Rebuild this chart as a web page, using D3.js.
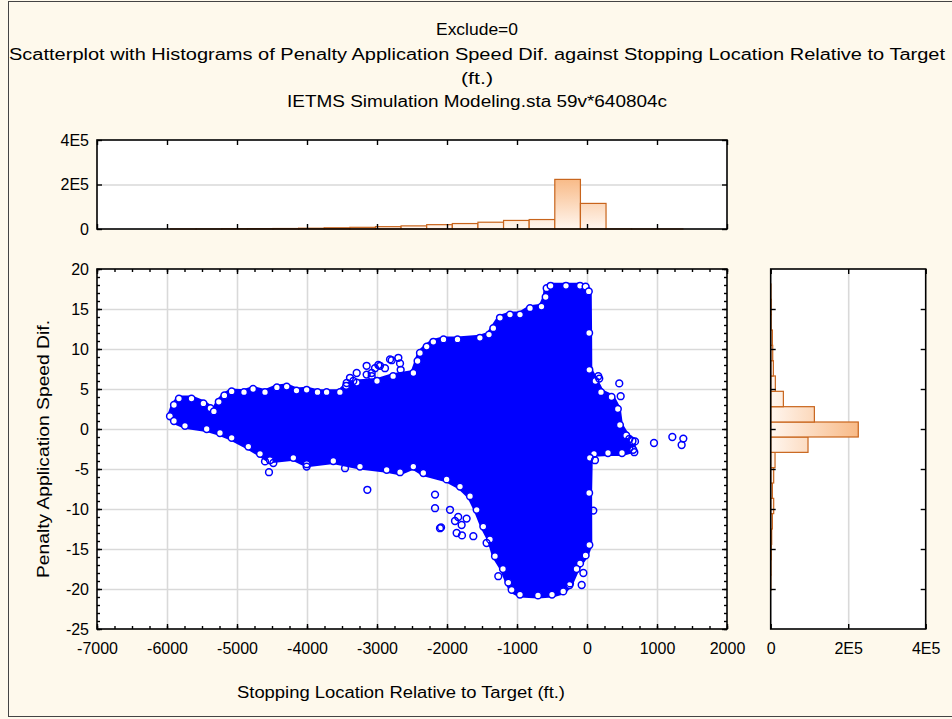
<!DOCTYPE html>
<html>
<head>
<meta charset="utf-8">
<script src="https://cdn.jsdelivr.net/npm/d3@7"></script>
<style>
  body { margin: 0; background: #fef9ec; }
  svg { display: block; font-family: Arial, "Liberation Sans", sans-serif; }
  .tick text { font-size: 16px; fill: #000; }
</style>
</head>
<body>
<svg id="chart" width="952" height="719"></svg>
<script>
// ---- data ----
var titleLines = ["Exclude=0",
    "Scatterplot with Histograms of Penalty Application Speed Dif. against Stopping Location Relative to Target",
    "(ft.)",
    "IETMS Simulation Modeling.sta 59v*640804c"]
var xLabel = "Stopping Location Relative to Target (ft.)"
var yLabel = "Penalty Application Speed Dif."

var xTicks = [-7000, -6000, -5000, -4000, -3000, -2000, -1000, 0, 1000, 2000]
var yTicks = [-25, -20, -15, -10, -5, 0, 5, 10, 15, 20]
var countTicks = [0, 200000, 400000]

// histogram of the x variable (20 bins)
var xBinEdges = [-5950, -5584, -5218, -4852, -4486, -4120, -3754, -3388, -3022, -2656, -2290,
    -1924, -1558, -1192, -826, -460, -94, 272, 638, 1004, 1370]
var xCounts = [300, 500, 1500, 1800, 2200, 3500, 5500, 7500, 10500, 14000,
    19500, 24500, 30500, 38500, 42500, 223000, 115000, 600, 100, 20]

// histogram of the y variable (20 bins, bottom to top)
var yBinEdges = [-20.17, -18.25, -16.33, -14.42, -12.5, -10.58, -8.67, -6.75, -4.83, -2.92, -1.0,
    0.875, 2.79, 4.71, 6.63, 8.54, 10.46, 12.38, 14.29, 16.21, 18.13]
var yCounts = [400, 900, 1700, 2600, 4300, 7700, 4300, 7700, 11200, 96300,
    226000, 112700, 32700, 12000, 6900, 5200, 4300, 1300, 1500, 700]

// outline of the dense point cloud: top edge left->right, then right side
var blobTop = [[-5957, 1.6], [-5900, 3.0], [-5829, 3.8], [-5650, 3.8], [-5480, 3.2], [-5380, 2.6],
    [-5330, 2.2], [-5260, 3.4], [-5180, 4.2], [-5076, 4.7], [-4900, 4.6], [-4770, 5.0], [-4600, 4.6],
    [-4430, 5.2], [-4290, 5.3], [-4150, 4.8], [-4005, 4.9], [-3850, 4.6], [-3720, 4.6], [-3530, 4.6],
    [-3440, 5.4], [-3290, 5.8], [-3000, 6.0], [-2770, 6.6], [-2480, 7.0], [-2420, 8.5], [-2386, 9.5],
    [-2290, 10.3], [-2195, 10.9], [-2050, 11.2], [-1850, 11.2], [-1530, 11.4], [-1400, 11.8],
    [-1338, 12.6], [-1243, 13.9], [-1100, 14.3], [-957, 14.3], [-814, 15.1], [-650, 15.3],
    [-590, 16.5], [-576, 17.6], [-520, 17.9], [-300, 17.9], [-100, 17.9], [-20, 17.8], [25, 17.2],
    [30, 12], [33, 7.4], [120, 6.0], [200, 4.6], [350, 4.0], [440, 2.5], [470, 0.5], [560, -0.8],
    [650, -1.5], [660, -2.6], [500, -3.0], [300, -3.0], [100, -3.1], [40, -3.6], [30, -8],
    [33, -14.5]]
// bottom edge right->left
var blobBottom = [[-20, -15.8], [-100, -16.8], [-150, -17.5], [-250, -19.5], [-340, -20.3],
    [-500, -20.7], [-700, -20.8], [-957, -20.7], [-1076, -20.1], [-1124, -19.2], [-1200, -17.5],
    [-1314, -15.9], [-1386, -13.8], [-1481, -12.2], [-1576, -10.1], [-1671, -8.4], [-1814, -7.2],
    [-2005, -6.3], [-2338, -5.5], [-2481, -4.7], [-2671, -5.4], [-2862, -5.1], [-3243, -4.7],
    [-3624, -4.0], [-4005, -4.4], [-4195, -3.6], [-4529, -3.9], [-4671, -3.1], [-4838, -2.2],
    [-5076, -1.1], [-5243, -0.5], [-5433, 0.0], [-5743, 0.4], [-5900, 1.0]]

// isolated points outside the dense cloud
var outliers = [[-3148, 7.9], [-2981, 8.0], [-2814, 8.7], [-2695, 8.9], [-2671, 8.2], [-3290, 7.0],
    [-3076, 7.0], [-3433, 5.75], [-3338, 6.0], [-2886, 7.6], [-3029, 7.6], [-2957, 7.9], [-2790, 8.6],
    [-2662, 7.4], [-3386, 6.4], [-3148, 6.8], [-3076, 6.6],
    [-4543, -5.4], [-4600, -4.05], [-4481, -4.25], [-4005, -4.7], [-3457, -4.9], [-3138, -7.6],
    [-2171, -8.2], [-2100, -12.4], [-2085, -12.3], [-1862, -13.0], [-1786, -13.3], [-1624, -13.4],
    [-2171, -9.9], [-1957, -10.1], [-1886, -11.5], [-1791, -12.0], [-1434, -14.25], [-1267, -18.4],
    [-1840, -11.0], [-1720, -11.2],
    [161, 6.6], [175, 6.3], [461, 5.7], [481, 4.1], [957, -1.75], [1219, -1.0], [1376, -1.2],
    [1352, -2.0], [604, -1.25], [604, -2.4], [676, -2.9], [686, -1.55], [114, -3.9], [90, -10.2],
    [-76, -19.5], [-243, -19.3], [-52, -18.0]]

// ---- chart ----
var svg = d3.select("#chart")

var main = { left: 97, right: 727, top: 269, bottom: 629 }
var topH = { top: 140, bottom: 229 }
var sideH = { left: 770.7, right: 925.7 }

var x = d3.scaleLinear().domain([-7000, 2000]).range([main.left, main.right])
var y = d3.scaleLinear().domain([-25, 20]).range([main.bottom, main.top])
var hTop = d3.scaleLinear().domain([0, 400000]).range([topH.bottom, topH.top])
var hSide = d3.scaleLinear().domain([0, 400000]).range([sideH.left, sideH.right])

var plain = function(d) { return String(d) }
var countFmt = function(d) { return d === 0 ? "0" : (d / 100000) + "E5" }

svg.append("rect").attr("x", 8.5).attr("y", 1.5).attr("width", 1000).attr("height", 715)
    .attr("fill", "#fef9ec").attr("stroke", "#444").attr("stroke-width", 1)

// titles (the source graph is stretched sideways, so long lines are fitted to width)
var titleY = [35, 60, 84, 107]
var titleW = [82, 936, 32, 380]
svg.selectAll("text.title").data(titleLines).enter().append("text")
    .attr("class", "title")
    .attr("x", 477).attr("y", function(d, i) { return titleY[i] })
    .attr("text-anchor", "middle").style("font-size", "16px")
    .attr("textLength", function(d, i) { return titleW[i] })
    .attr("lengthAdjust", "spacingAndGlyphs")
    .text(function(d) { return d })

var defs = svg.append("defs")
var gv = defs.append("linearGradient").attr("id", "gradV").attr("gradientUnits", "userSpaceOnUse")
    .attr("x1", 0).attr("x2", 0).attr("y1", hTop(0)).attr("y2", hTop(230000))
gv.append("stop").attr("offset", 0).attr("stop-color", "#fff6ef")
gv.append("stop").attr("offset", 1).attr("stop-color", "#f8b985")
var gh = defs.append("linearGradient").attr("id", "gradH").attr("gradientUnits", "userSpaceOnUse")
    .attr("y1", 0).attr("y2", 0).attr("x1", hSide(0)).attr("x2", hSide(230000))
gh.append("stop").attr("offset", 0).attr("stop-color", "#fff6ef")
gh.append("stop").attr("offset", 1).attr("stop-color", "#f8b985")
defs.append("clipPath").attr("id", "clipMain").append("rect")
    .attr("x", main.left).attr("y", main.top)
    .attr("width", main.right - main.left).attr("height", main.bottom - main.top)

function panel(l, t, r, b) {
    return svg.append("rect").attr("x", l).attr("y", t).attr("width", r - l).attr("height", b - t)
        .attr("fill", "#fff")
}
function frame(l, t, r, b) {
    svg.append("rect").attr("x", l).attr("y", t).attr("width", r - l).attr("height", b - t)
        .attr("fill", "none").attr("stroke", "#000").attr("stroke-width", 1.6)
}
function ticks(axis, tx, ty, size, values, fmt, pad) {
    var g = svg.append("g").attr("transform", "translate(" + tx + "," + ty + ")")
        .call(axis.tickValues(values).tickSize(size).tickPadding(pad || 6)
            .tickFormat(fmt || ""))
    g.select(".domain").remove()
    g.selectAll(".tick line").attr("stroke", "#000").attr("stroke-width", 1.4)
    return g
}
function grid(axis, tx, ty, size, values) {
    var g = svg.append("g").attr("transform", "translate(" + tx + "," + ty + ")")
        .call(axis.tickValues(values).tickSize(size).tickFormat(""))
    g.select(".domain").remove()
    g.selectAll(".tick line").attr("stroke", "#d9d9d9").attr("stroke-width", 1.6)
}

var xMinor = d3.range(-7000, 2001, 250)
var yMinor = d3.range(-25, 21, 1)

// ---- main scatter ----
panel(main.left, main.top, main.right, main.bottom)
grid(d3.axisBottom(x), 0, main.bottom, -(main.bottom - main.top), xTicks.slice(1, -1))
grid(d3.axisLeft(y), main.left, 0, -(main.right - main.left), yTicks.slice(1, -1))

var cloud = svg.append("g").attr("clip-path", "url(#clipMain)")
var outline = d3.line().x(function(d) { return x(d[0]) }).y(function(d) { return y(d[1]) })
var ring = blobTop.concat(blobBottom)
cloud.append("path")
    .datum(ring)
    .attr("d", function(d) { return outline(d) + "Z" })
    .attr("fill", "#0000ff").attr("stroke", "#0000ff").attr("stroke-width", 6)
    .attr("stroke-linejoin", "round")
// rim points along the outline, open circles like the edge of the cloud
cloud.selectAll("circle.rim").data(ring).enter().append("circle")
    .attr("class", "rim")
    .attr("cx", function(d) { return x(d[0]) }).attr("cy", function(d) { return y(d[1]) })
    .attr("r", 3.4).attr("fill", "#fff").attr("stroke", "#0000ff").attr("stroke-width", 1.5)
cloud.selectAll("circle.out").data(outliers).enter().append("circle")
    .attr("class", "out")
    .attr("cx", function(d) { return x(d[0]) }).attr("cy", function(d) { return y(d[1]) })
    .attr("r", 3.4).attr("fill", "none").attr("stroke", "#0000ff").attr("stroke-width", 1.5)

ticks(d3.axisBottom(x), 0, main.bottom, -5, xTicks, plain, 14)
ticks(d3.axisBottom(x), 0, main.bottom, -3, xMinor)
ticks(d3.axisTop(x), 0, main.top, -5, xTicks)
ticks(d3.axisTop(x), 0, main.top, -3, xMinor)
ticks(d3.axisLeft(y), main.left, 0, -5, yTicks, plain, 8)
ticks(d3.axisLeft(y), main.left, 0, -3, yMinor)
ticks(d3.axisRight(y), main.right, 0, -5, yTicks)
ticks(d3.axisRight(y), main.right, 0, -3, yMinor)
frame(main.left, main.top, main.right, main.bottom)

// ---- top histogram ----
panel(main.left, topH.top, main.right, topH.bottom)
grid(d3.axisLeft(hTop), main.left, 0, -(main.right - main.left), [200000])
var xBins = xCounts.map(function(c, i) { return { x0: xBinEdges[i], x1: xBinEdges[i + 1], n: c } })
svg.append("g").selectAll("rect").data(xBins).enter().append("rect")
    .attr("x", function(d) { return x(d.x0) })
    .attr("width", function(d) { return x(d.x1) - x(d.x0) })
    .attr("y", function(d) { return hTop(d.n) })
    .attr("height", function(d) { return hTop(0) - hTop(d.n) })
    .attr("fill", "url(#gradV)").attr("stroke", "#c8641c").attr("stroke-width", 1.2)
ticks(d3.axisLeft(hTop), main.left, 0, -5, countTicks, countFmt, 8)
ticks(d3.axisRight(hTop), main.right, 0, -5, countTicks)
ticks(d3.axisTop(x), 0, topH.top, -5, xTicks)
ticks(d3.axisBottom(x), 0, topH.bottom, -5, xTicks)
frame(main.left, topH.top, main.right, topH.bottom)

// ---- side histogram ----
panel(sideH.left, main.top, sideH.right, main.bottom)
grid(d3.axisBottom(hSide), 0, main.bottom, -(main.bottom - main.top), [200000])
var yBins = yCounts.map(function(c, i) { return { y0: yBinEdges[i], y1: yBinEdges[i + 1], n: c } })
svg.append("g").selectAll("rect").data(yBins).enter().append("rect")
    .attr("x", hSide(0))
    .attr("width", function(d) { return hSide(d.n) - hSide(0) })
    .attr("y", function(d) { return y(d.y1) })
    .attr("height", function(d) { return y(d.y0) - y(d.y1) })
    .attr("fill", "url(#gradH)").attr("stroke", "#c8641c").attr("stroke-width", 1.2)
ticks(d3.axisLeft(y), sideH.left, 0, -5, yTicks.slice(1, -1))
ticks(d3.axisRight(y), sideH.right, 0, -5, yTicks.slice(1, -1))
ticks(d3.axisBottom(hSide), 0, main.bottom, -5, countTicks, countFmt, 14)
ticks(d3.axisTop(hSide), 0, main.top, -5, countTicks)
frame(sideH.left, main.top, sideH.right, main.bottom)

// axis titles
svg.append("text").attr("x", 401).attr("y", 698)
    .attr("text-anchor", "middle").style("font-size", "16px")
    .attr("textLength", 328).attr("lengthAdjust", "spacingAndGlyphs").text(xLabel)
svg.append("text")
    .attr("transform", "translate(49," + ((main.top + main.bottom) / 2) + ") rotate(-90)")
    .attr("text-anchor", "middle").style("font-size", "16px")
    .attr("textLength", 258).attr("lengthAdjust", "spacingAndGlyphs").text(yLabel)
</script>
</body>
</html>
